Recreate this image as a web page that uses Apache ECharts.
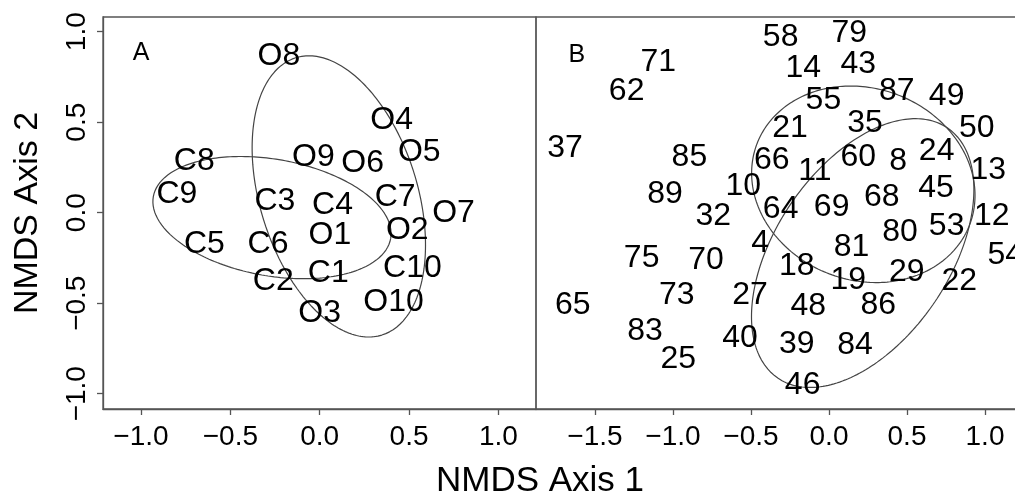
<!DOCTYPE html>
<html>
<head>
<meta charset="utf-8">
<script src="https://cdn.jsdelivr.net/npm/echarts@6/dist/echarts.min.js"></script>
<style>
html,body{margin:0;padding:0;background:#fff;}
#chart{width:1015px;height:495px;}
</style>
</head>
<body>
<div id="chart"></div>
<script>
// ---- Panel A: site scores (NMDS axis 1, axis 2)
const labelsA = ['O8','O4','O5','C8','O9','O6','C9','C3','C4','C7','O7','O2','O1','C5','C6','C1','C10','C2','O10','O3'];
const xA = [-0.228,0.403,0.557,-0.702,-0.035,0.240,-0.799,-0.251,0.072,0.422,0.749,0.490,0.057,-0.645,-0.289,0.048,0.519,-0.260,0.413,0.000];
const yA = [0.866,0.512,0.337,0.287,0.306,0.273,0.102,0.061,0.043,0.088,-0.003,-0.096,-0.123,-0.173,-0.173,-0.335,-0.307,-0.381,-0.497,-0.556];

// ---- Panel B
const labelsB = ['58','79','71','14','43','62','55','87','49','21','35','50','37','85','66','60','8','24','11','13','10','89','45','68','69','64','32','12','80','53','4','81','54','75','70','18','19','29','22','73','27','65','48','86','83','40','39','84','25','46'];
const xB = [-0.310,0.130,-1.094,-0.165,0.188,-1.297,-0.036,0.434,0.754,-0.250,0.231,0.947,-1.692,-0.895,-0.367,0.188,0.444,0.690,-0.090,1.021,-0.549,-1.051,0.686,0.338,0.017,-0.310,-0.742,1.043,0.455,0.754,-0.442,0.145,1.130,-1.201,-0.788,-0.207,0.124,0.498,0.835,-0.976,-0.506,-1.643,-0.133,0.316,-1.179,-0.571,-0.207,0.167,-0.966,-0.169];
const yB = [0.972,0.994,0.829,0.798,0.822,0.674,0.623,0.669,0.645,0.466,0.494,0.466,0.356,0.306,0.291,0.309,0.285,0.340,0.227,0.236,0.144,0.102,0.135,0.085,0.033,0.019,-0.018,-0.018,-0.108,-0.077,-0.169,-0.188,-0.234,-0.252,-0.261,-0.298,-0.372,-0.330,-0.376,-0.455,-0.455,-0.510,-0.519,-0.510,-0.657,-0.694,-0.725,-0.731,-0.810,-0.952];

// ---- Ellipses: [centre x, centre y, semi-axis u (x,y), conjugate semi-axis v (x,y)]
const ellipseA1 = [-0.267, -0.027, 0.664, -0.116, -0.057, -0.317];
const ellipseA2 = [0.107, 0.090, 0.241, -0.766, -0.421, -0.129];
const ellipseB1 = [0.220, 0.157, 0.682, -0.223, -0.218, -0.495];
const ellipseB2 = [0.216, -0.223, 0.542, 0.692, 0.463, -0.269];

// ---- Axis ticks
const ticksAx = [-1.0, -0.5, 0.0, 0.5, 1.0];
const ticksBx = [-1.5, -1.0, -0.5, 0.0, 0.5, 1.0];
const ticksY = [-1.0, -0.5, 0.0, 0.5, 1.0];
const panelLetters = ['A', 'B'];
const panelLetterPos = [[-1.0, 0.88], [-1.617, 0.871]];

const FONT = "'Liberation Sans', Arial, Helvetica, sans-serif";
const fmt = v => (v < 0 ? '\u2212' : '') + Math.abs(v).toFixed(1);

function ellipsePts(e) {
  const pts = [];
  const n = 240;
  for (let i = 0; i <= n; i++) {
    const t = 2 * Math.PI * i / n;
    pts.push([e[0] + e[2] * Math.cos(t) + e[4] * Math.sin(t),
              e[1] + e[3] * Math.cos(t) + e[5] * Math.sin(t)]);
  }
  return pts;
}
function labelSeries(labels, xs, ys, idx, size) {
  return {
    type: 'scatter', xAxisIndex: idx, yAxisIndex: idx,
    symbolSize: 1, itemStyle: { color: 'rgba(0,0,0,0)', opacity: 1 },
    silent: true, z: 5,
    data: labels.map((l, i) => ({ name: l, value: [xs[i], ys[i]] })),
    label: { show: true, position: 'inside', formatter: p => p.name, opacity: 1,
             textBorderWidth: 0, color: '#000', fontSize: size, fontFamily: FONT }
  };
}
function ellipseSeries(e, idx) {
  return {
    type: 'line', xAxisIndex: idx, yAxisIndex: idx, data: ellipsePts(e),
    showSymbol: false, symbol: 'none', silent: true, z: 3,
    lineStyle: { color: '#444', width: 1.2 }
  };
}
const tickStyle = { show: true, length: 6, lineStyle: { color: '#555', width: 1.3 } };
const lineStyle = { show: true, onZero: false, lineStyle: { color: '#555', width: 1.3 } };
const xLabel = { color: '#000', fontSize: 28, fontFamily: FONT, margin: 14, formatter: fmt };

const chart = echarts.init(document.getElementById('chart'), null, { renderer: 'canvas' });
chart.setOption({
  animation: false,
  backgroundColor: '#fff',
  grid: [
    { left: 103, top: 17, width: 433, height: 392, show: true, borderColor: '#555', borderWidth: 1.3,
      containLabel: false, outerBoundsMode: 'none' },
    { left: 536, top: 17, width: 511, height: 392, show: true, borderColor: '#555', borderWidth: 1.3,
      containLabel: false, outerBoundsMode: 'none' }
  ],
  xAxis: [
    { type: 'value', gridIndex: 0, min: -1.2126, max: 1.2104, splitLine: { show: false },
      axisLine: lineStyle, axisTick: Object.assign({ customValues: ticksAx }, tickStyle),
      axisLabel: Object.assign({ customValues: ticksAx }, xLabel) },
    { type: 'value', gridIndex: 1, min: -1.8782, max: 1.3974, splitLine: { show: false },
      axisLine: lineStyle, axisTick: Object.assign({ customValues: ticksBx }, tickStyle),
      axisLabel: Object.assign({ customValues: ticksBx }, xLabel) }
  ],
  yAxis: [
    { type: 'value', gridIndex: 0, min: -1.0845, max: 1.0812, splitLine: { show: false },
      axisLine: lineStyle, axisTick: Object.assign({ customValues: ticksY }, tickStyle),
      axisLabel: { customValues: ticksY, color: '#000', fontSize: 28, fontFamily: FONT, margin: 12, rotate: 90, formatter: fmt },
      name: 'NMDS Axis 2', nameLocation: 'middle', nameGap: 58, nameRotate: 90,
      nameTextStyle: { color: '#000', fontSize: 34, fontFamily: FONT } },
    { type: 'value', gridIndex: 1, min: -1.0845, max: 1.0812, splitLine: { show: false },
      axisLine: { show: false, onZero: false }, axisTick: { show: false }, axisLabel: { show: false } }
  ],
  graphic: [
    { type: 'text', x: 540, y: 481, silent: true,
      style: { text: 'NMDS Axis 1', fill: '#000', font: '35px ' + FONT, textAlign: 'center', textVerticalAlign: 'middle' } }
  ],
  series: [
    ellipseSeries(ellipseA1, 0),
    ellipseSeries(ellipseA2, 0),
    ellipseSeries(ellipseB1, 1),
    ellipseSeries(ellipseB2, 1),
    labelSeries(labelsA, xA, yA, 0, 32),
    labelSeries(labelsB, xB, yB, 1, 32),
    labelSeries([panelLetters[0]], [panelLetterPos[0][0]], [panelLetterPos[0][1]], 0, 25),
    labelSeries([panelLetters[1]], [panelLetterPos[1][0]], [panelLetterPos[1][1]], 1, 25)
  ]
});
</script>
</body>
</html>
